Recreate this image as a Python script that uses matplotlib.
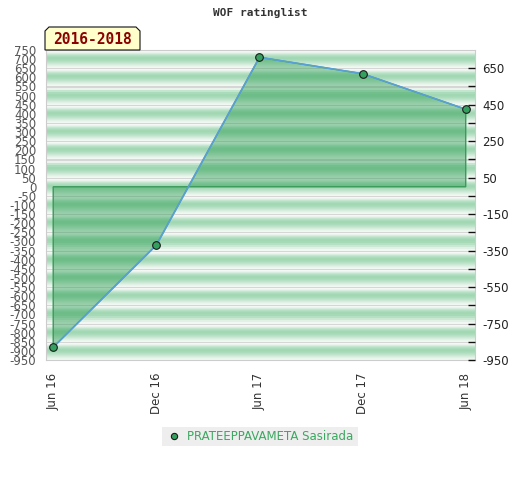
import numpy as np
import matplotlib
matplotlib.use("Agg")
import matplotlib.pyplot as plt
from matplotlib.patches import Polygon
from matplotlib.colors import to_rgb

# data
dates = ["Jun 16", "Dec 16", "Jun 17", "Dec 17", "Jun 18"]
rating = [-880, -320, 710, 620, 425]
player = "PRATEEPPAVAMETA Sasirada"
period = "2016-2018"

ymin, ymax = -950, 750
x = np.arange(len(dates))

fig = plt.figure(figsize=(5.2, 4.8), dpi=100)
ax = fig.add_axes([46 / 520, 1 - 360 / 480, 429 / 520, 310 / 480])
xlim = (-0.07, len(dates) - 1 + 0.09)

# striped background, one stripe every 100 points
profile = ["#d6d6d6", "#f4f8f5", "#eaf4ec", "#d6ede0", "#c4e6ce", "#b6e0c3",
           "#aadbba", "#a4d8b5", "#a2d7b3", "#a6d9b6", "#acdcbb", "#b6e0c3",
           "#c0e4cb", "#cbe8d4", "#d6eddd", "#e1f1e5", "#eaf5ec", "#f1f7f2"]
vals = np.arange(ymax, ymin, -1) - 0.5
phase = ((650 - vals) % 100) / 100
idx = np.minimum((phase * len(profile)).astype(int), len(profile) - 1)
img = np.array([to_rgb(profile[i]) for i in idx])[:, None, :]
ax.imshow(img, extent=[xlim[0], xlim[1], ymin, ymax], aspect="auto",
          interpolation="nearest", zorder=0)

# area between the rating line and zero
pts = [(x[0], 0)] + list(zip(x, rating)) + [(x[-1], 0)]
ax.add_patch(Polygon(pts, closed=True, facecolor="#2e9e55", alpha=0.45,
                     edgecolor="none", zorder=1))
ax.add_patch(Polygon(pts, closed=True, facecolor="none",
                     edgecolor="#3a9a5a", lw=1, zorder=2))
ax.plot(x, rating, color="#5aa0d8", lw=1.2, zorder=3)
ax.plot(x, rating, "o", ms=5.5, mfc="#34a060", mec="#1a1a1a", mew=0.8, zorder=4)

ax.set_xlim(*xlim)
ax.set_ylim(ymin, ymax)
ax.set_xticks(x)
ax.set_xticklabels(dates, rotation=90, fontsize=8.5, color="#333333")
ax.set_yticks(np.arange(ymin, ymax + 1, 50))
ax.set_yticklabels([str(v) for v in range(ymin, ymax + 1, 50)],
                   fontsize=8.5, color="#555555")
ax.tick_params(axis="x", length=0, pad=9)
ax.tick_params(axis="y", length=0, pad=7)

for s in ax.spines.values():
    s.set_color("#cccccc")

# right axis with ticks every 100, labels every 200
ax2 = ax.twinx()
ax2.set_ylim(ymin, ymax)
rticks = np.arange(ymin, ymax, 100)
ax2.set_yticks(rticks)
ax2.set_yticklabels([str(v) if (v - ymin) % 200 == 0 else "" for v in rticks],
                    fontsize=8.5, color="#222222")
ax2.tick_params(axis="y", direction="in", length=5, width=1, pad=5,
                color="#111111")
for s in ax2.spines.values():
    s.set_visible(False)

fig.text(0.5, 1 - 13 / 480, "WOF ratinglist", ha="center", va="center",
         family="DejaVu Sans Mono", weight="bold", fontsize=8, color="#333333")

# period label tab in the top left corner
tab = [(45, 50), (45, 31), (49, 27), (136, 27), (140, 31), (140, 50)]
tab = [(px / 520, 1 - py / 480) for px, py in tab]
fig.patches.append(Polygon(tab, closed=True, transform=fig.transFigure,
                           facecolor="#ffffcc", edgecolor="#111111", lw=0.8))
fig.text(92 / 520, 1 - 40 / 480, period, ha="center", va="center",
         family="DejaVu Sans Mono", weight="bold", fontsize=10.5, color="#8b0000")

# legend box
fig.patches.append(plt.Rectangle((162 / 520, 1 - 446 / 480), 196 / 520, 19 / 480,
                                 transform=fig.transFigure, facecolor="#eeeeee",
                                 edgecolor="none"))
fig.lines.append(plt.Line2D([174 / 520], [1 - 436 / 480], marker="o", ms=4.5,
                            mfc="#34a060", mec="#1a1a1a", mew=0.8,
                            transform=fig.transFigure))
fig.text(187 / 520, 1 - 436 / 480, player, ha="left", va="center",
         fontsize=8.5, color="#3aa860")

fig.savefig("out.png", dpi=100)
